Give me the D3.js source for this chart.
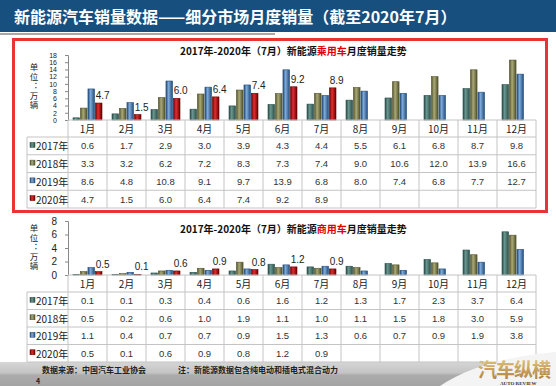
<!DOCTYPE html>
<html>
<head>
<meta charset="utf-8">
<script src="https://cdn.jsdelivr.net/npm/d3@7"></script>
<style>
  body { margin: 0; background: #fff; }
  svg { display: block; font-family: "Noto Sans CJK SC", "Liberation Sans", sans-serif; }
</style>
</head>
<body>
<div id="chart"></div>
<script>
// 数据（万辆）
const months = ["1月","2月","3月","4月","5月","6月","7月","8月","9月","10月","11月","12月"];
const years = ["2017年","2018年","2019年","2020年"];

const passenger2017 = [0.6, 1.7, 2.9, 3.0, 3.9, 4.3, 4.4, 5.5, 6.1, 6.8, 8.7, 9.8];
const passenger2018 = [3.3, 3.2, 6.2, 7.2, 8.3, 7.3, 7.4, 9.0, 10.6, 12.0, 13.9, 16.6];
const passenger2019 = [8.6, 4.8, 10.8, 9.1, 9.7, 13.9, 6.8, 8.0, 7.4, 6.8, 7.7, 12.7];
const passenger2020 = [4.7, 1.5, 6.0, 6.4, 7.4, 9.2, 8.9];

const commercial2017 = [0.1, 0.1, 0.3, 0.4, 0.6, 1.6, 1.2, 1.3, 1.7, 2.3, 3.7, 6.4];
const commercial2018 = [0.5, 0.2, 0.6, 1.0, 1.9, 1.1, 1.0, 1.1, 1.5, 1.8, 3.0, 5.9];
const commercial2019 = [1.1, 0.4, 0.7, 0.7, 0.9, 1.5, 1.3, 0.6, 0.7, 0.9, 1.9, 3.8];
const commercial2020 = [0.5, 0.1, 0.6, 0.9, 0.8, 1.2, 0.9];

const passengerTicks = [0, 2, 4, 6, 8, 10, 12, 14, 16, 18];
const commercialTicks = [0, 2, 4, 6, 8];

// 颜色：边 / 中间高光
const colors = [
  { id: "c17", edge: "#2b4f4a", mid: "#6a978f" },
  { id: "c18", edge: "#52522c", mid: "#aaaa78" },
  { id: "c19", edge: "#234d7a", mid: "#7eaad9" },
  { id: "c20", edge: "#6a0000", mid: "#e03030" }
];

const W = 556, H = 386;
const svg = d3.select("#chart").append("svg")
  .attr("width", W).attr("height", H);

const defs = svg.append("defs");
colors.forEach(c => {
  const g = defs.append("linearGradient").attr("id", c.id)
    .attr("x1", 0).attr("x2", 1).attr("y1", 0).attr("y2", 0);
  g.append("stop").attr("offset", "0%").attr("stop-color", c.edge);
  g.append("stop").attr("offset", "40%").attr("stop-color", c.mid);
  g.append("stop").attr("offset", "100%").attr("stop-color", c.edge);
});
const fg = defs.append("linearGradient").attr("id", "foot")
  .attr("x1", 0).attr("x2", 0).attr("y1", 0).attr("y2", 1);
fg.append("stop").attr("offset", "0%").attr("stop-color", "#d6d6d6");
fg.append("stop").attr("offset", "45%").attr("stop-color", "#c4c4c4");
fg.append("stop").attr("offset", "55%").attr("stop-color", "#ababab");
fg.append("stop").attr("offset", "100%").attr("stop-color", "#a4a4a4");
const lg = defs.append("linearGradient").attr("id", "logo")
  .attr("x1", 0).attr("x2", 0).attr("y1", 0).attr("y2", 1);
lg.append("stop").attr("offset", "0%").attr("stop-color", "#e8cf8a");
lg.append("stop").attr("offset", "100%").attr("stop-color", "#a8793a");

// 标题栏
svg.append("rect").attr("x", 0).attr("y", 0).attr("width", W).attr("height", 32)
  .attr("fill", "#17507f");
svg.append("rect").attr("x", 0).attr("y", 33).attr("width", 275).attr("height", 2)
  .attr("fill", "#a8a8a8");
svg.append("text").attr("x", 14).attr("y", 23)
  .attr("fill", "#fff").attr("font-size", 16).attr("font-weight", "bold")
  .text("新能源汽车销量数据——细分市场月度销量（截至2020年7月）");

// 底栏
svg.append("rect").attr("x", 0).attr("y", 362).attr("width", W).attr("height", 24)
  .attr("fill", "url(#foot)");
svg.append("text").attr("x", 42).attr("y", 373).attr("font-size", 8)
  .attr("font-weight", "bold").attr("fill", "#222").text("数据来源：中国汽车工业协会");
svg.append("text").attr("x", 178).attr("y", 373).attr("font-size", 8)
  .attr("font-weight", "bold").attr("fill", "#222").text("注：新能源数据包含纯电动和插电式混合动力");
svg.append("text").attr("x", 36).attr("y", 384).attr("font-size", 7)
  .attr("font-weight", "bold").attr("fill", "#222").text("4");

const x0 = d3.scaleBand().domain(months).range([68, 536]);
const x1 = d3.scaleBand().domain(years).range([5, 34]).paddingInner(0.12);

function drawPanel(cfg) {
  const g = svg.append("g");
  const y = d3.scaleLinear().domain([0, cfg.max]).range([cfg.zero, cfg.top]);

  // 标题
  const t = g.append("text").attr("x", 180).attr("y", cfg.titleY)
    .attr("font-size", 10).attr("font-weight", "bold").attr("fill", "#111");
  t.append("tspan").text("2017年-2020年（7月）新能源");
  t.append("tspan").attr("fill", "#e00000").text(cfg.kind);
  t.append("tspan").text("月度销量走势");

  // 单位（竖排）
  g.append("text").attr("x", 34).attr("y", cfg.unitY)
    .attr("writing-mode", "vertical-rl").attr("glyph-orientation-vertical", 0)
    .attr("font-size", 8.5).attr("letter-spacing", 1).attr("fill", "#222")
    .text("单位：万辆");

  // y 轴
  const axis = g.append("g").attr("transform", "translate(68,0)")
    .call(d3.axisLeft(y).tickValues(cfg.ticks).tickSize(3).tickPadding(8));
  axis.select(".domain").attr("stroke", "#888");
  axis.selectAll(".tick line").attr("stroke", "#888");
  axis.selectAll("text").attr("font-size", cfg.tickFont).attr("fill", "#222")
    .attr("font-family", "Liberation Sans Narrow, Liberation Sans, sans-serif");

  // 柱
  const groups = g.selectAll(".grp").data(months).join("g")
    .attr("transform", m => `translate(${x0(m)},0)`);
  groups.each(function(m, mi) {
    const grp = d3.select(this);
    cfg.series.forEach((arr, si) => {
      const v = arr[mi];
      if (v === undefined) return;
      const bx = x1(years[si]), bw = x1.bandwidth();
      grp.append("rect").attr("x", bx).attr("y", y(v))
        .attr("width", bw).attr("height", y(0) - y(v))
        .attr("fill", `url(#${colors[si].id})`)
        .attr("stroke", colors[si].edge).attr("stroke-width", 0.6);
      if (si === 3) {
        grp.append("text").attr("x", bx + bw / 2 + 4).attr("y", y(v) - 4)
          .attr("text-anchor", "middle").attr("font-size", 10).attr("fill", "#222")
          .attr("font-family", "Liberation Sans, sans-serif")
          .text(v.toFixed(1));
      }
    });
  });

  // 数据表
  const rowTop = cfg.zero + cfg.headH;
  const tbl = g.append("g").attr("stroke", "#c4c4c4").attr("stroke-width", 1);
  tbl.append("line").attr("x1", 68).attr("x2", 536).attr("y1", cfg.zero).attr("y2", cfg.zero);
  for (let r = 0; r <= 4; r++) {
    const yy = rowTop + r * cfg.rowH;
    tbl.append("line").attr("x1", 27).attr("x2", 536).attr("y1", yy).attr("y2", yy);
  }
  const bottom = rowTop + 4 * cfg.rowH;
  months.forEach(m => {
    tbl.append("line").attr("x1", x0(m)).attr("x2", x0(m)).attr("y1", cfg.zero).attr("y2", bottom);
  });
  tbl.append("line").attr("x1", 536).attr("x2", 536).attr("y1", cfg.zero).attr("y2", bottom);
  tbl.append("line").attr("x1", 27).attr("x2", 27).attr("y1", rowTop).attr("y2", bottom);

  months.forEach(m => {
    g.append("text").attr("x", x0(m) + x0.bandwidth() / 2).attr("y", cfg.zero + cfg.headH / 2)
      .attr("text-anchor", "middle").attr("dominant-baseline", "central")
      .attr("font-size", 10).attr("fill", "#222").text(m);
  });
  years.forEach((yr, si) => {
    const cy = rowTop + (si + 0.5) * cfg.rowH;
    g.append("rect").attr("x", 30).attr("y", cy - 3.5).attr("width", 5).attr("height", 5)
      .attr("fill", `url(#${colors[si].id})`).attr("stroke", colors[si].edge).attr("stroke-width", 0.5);
    g.append("text").attr("x", 36).attr("y", cy).attr("dominant-baseline", "central")
      .attr("font-size", 10).attr("fill", "#222").text(yr);
    cfg.series[si].forEach((v, mi) => {
      g.append("text").attr("x", x0(months[mi]) + x0.bandwidth() / 2).attr("y", cy)
        .attr("text-anchor", "middle").attr("dominant-baseline", "central")
        .attr("font-size", 9.5).attr("fill", "#333")
        .attr("font-family", "Liberation Sans, sans-serif")
        .text(v.toFixed(1));
    });
  });
}

drawPanel({
  kind: "乘用车", max: 18, ticks: passengerTicks, zero: 120, top: 55, titleY: 55,
  tickFont: 7, unitY: 63, headH: 17, rowH: 17.75,
  series: [passenger2017, passenger2018, passenger2019, passenger2020]
});
drawPanel({
  kind: "商用车", max: 8, ticks: commercialTicks, zero: 275, top: 221, titleY: 233,
  tickFont: 10, unitY: 224, headH: 17, rowH: 17.5,
  series: [commercial2017, commercial2018, commercial2019, commercial2020]
});

// 红框
svg.append("rect").attr("x", 13.5).attr("y", 39.5).attr("width", 533).attr("height", 172)
  .attr("fill", "none").attr("stroke", "#e83434").attr("stroke-width", 3);

// 标志
svg.append("path")
  .attr("d", "M440,386 C470,366 510,356 556,352 L556,386 Z")
  .attr("fill", "#f4f4f4");
svg.append("text").attr("x", 478).attr("y", 377).attr("font-size", 19)
  .attr("font-weight", "bold").attr("fill", "url(#logo)").attr("letter-spacing", -1)
  .text("汽车纵横");
svg.append("text").attr("x", 500).attr("y", 384.5).attr("font-size", 5)
  .attr("font-family", "Liberation Serif, serif").attr("font-weight", "bold")
  .attr("fill", "#333").text("AUTO REVIEW");
</script>
</body>
</html>
